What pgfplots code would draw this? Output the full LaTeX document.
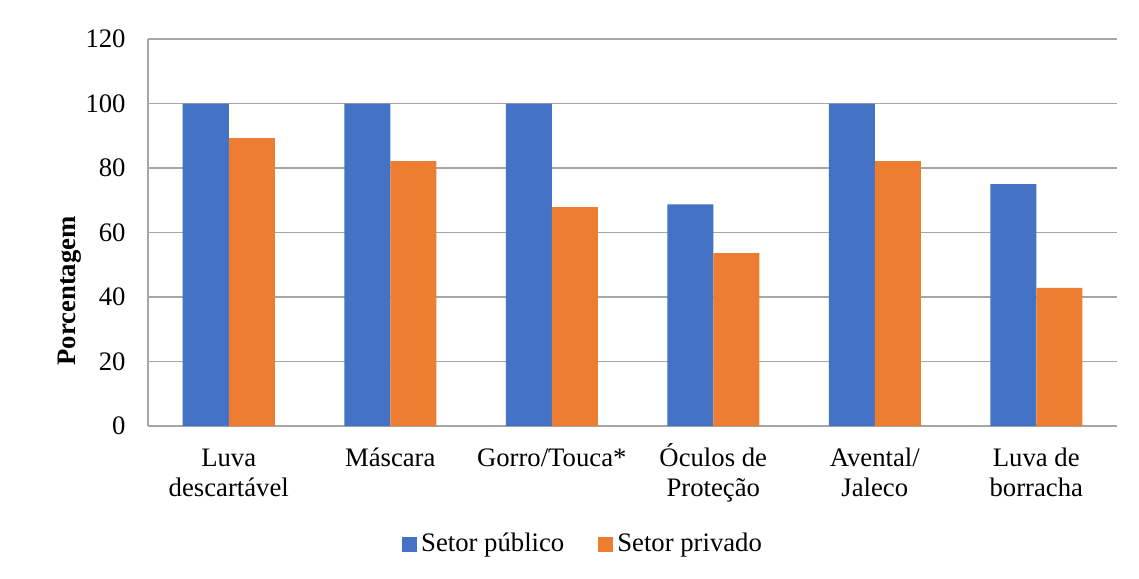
\documentclass[border=0pt]{standalone}
\usepackage{pgfplots}
\pgfplotsset{compat=1.18}
\usepackage{fontspec}
\setmainfont{Liberation Serif}
\definecolor{cblue}{HTML}{4472C4}
\definecolor{corange}{HTML}{ED7D31}
\definecolor{cgrid}{HTML}{A6A6A6}
\newcommand\cf{\fontsize{13.35pt}{15pt}\selectfont}
\newcommand\tl{\rule{0pt}{20pt}}
\begin{document}
\begin{tikzpicture}
\useasboundingbox (-74pt,-76pt) rectangle (495.5pt,213pt);
\begin{axis}[
  at={(0,0)}, anchor=south west,
  scale only axis, width=484.5pt, height=193.5pt,
  ybar=0pt, bar width=23pt,
  xmin=-0.5, xmax=5.5, ymin=0, ymax=120,
  ytick={0,20,...,120},
  xtick={0,...,5},
  xticklabels={{\tl Luva\\descartável},{\tl Máscara},{\tl Gorro/Touca*},{\tl Óculos de\\Proteção},{\tl Avental/\\Jaleco},{\tl Luva de\\borracha}},
  xticklabel style={align=center, anchor=north, inner sep=0pt, font=\cf},
  yticklabel style={anchor=east, inner sep=0pt, xshift=-11pt, font=\cf},
  /pgf/number format/assume math mode=true,
  major tick length=0pt,
  axis lines*=left,
  axis line style={draw=cgrid, line width=0.75pt, -},
  ymajorgrids, grid style={draw=cgrid, line width=0.75pt},
  ylabel={\textbf{Porcentagem}},
  ylabel style={at={(axis description cs:-0.0805,0.349)}, anchor=center, font=\cf},
  legend columns=2,
  legend style={at={(axis description cs:0.45,-0.305)}, anchor=center, draw=none, font=\cf,
    /tikz/every even column/.append style={column sep=15pt}},
]
\addplot[fill=cblue, draw=none, legend image code/.code={\fill[cblue] (0pt,-3.75pt) rectangle (7.5pt,3.75pt);}]
  coordinates {(0,100) (1,100) (2,100) (3,68.75) (4,100) (5,75)};
\addplot[fill=corange, draw=none, legend image code/.code={\fill[corange] (0pt,-3.75pt) rectangle (7.5pt,3.75pt);}]
  coordinates {(0,89.29) (1,82.14) (2,67.86) (3,53.57) (4,82.14) (5,42.86)};
\legend{Setor público, Setor privado}
\end{axis}
\end{tikzpicture}
\end{document}
